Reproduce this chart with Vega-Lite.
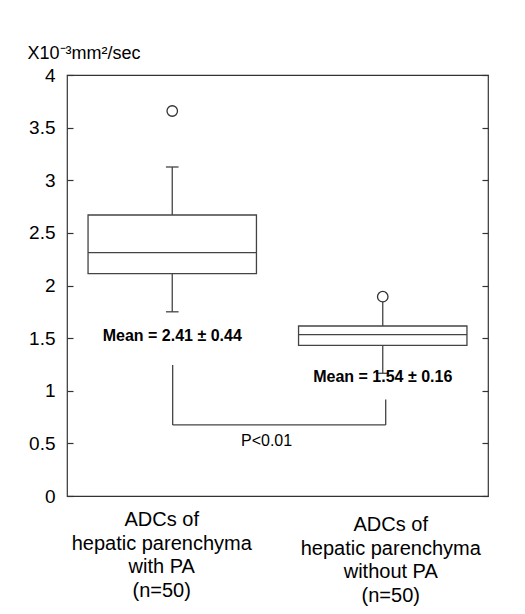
{
  "$schema": "https://vega.github.io/schema/vega-lite/v6.json",
  "width": 421,
  "height": 421,
  "autosize": {"type": "none"},
  "padding": {"left": 67, "top": 75, "right": 37, "bottom": 118},
  "background": "white",
  "config": {
    "view": {"stroke": "#333333", "strokeWidth": 1.2},
    "font": "Liberation Sans",
    "axis": {"grid": false}
  },
  "datasets": {
    "boxes": [
      {"group": "with PA", "x1": 5, "x2": 45, "q1": 2.113, "q3": 2.670},
      {"group": "without PA", "x1": 55, "x2": 95, "q1": 1.432, "q3": 1.615}
    ],
    "segments": [
      {"part": "median1", "x": 5, "x2": 45, "y": 2.312, "y2": 2.312},
      {"part": "median2", "x": 55, "x2": 95, "y": 1.533, "y2": 1.533},
      {"part": "upper whisker1", "x": 25, "x2": 25, "y": 2.670, "y2": 3.126},
      {"part": "lower whisker1", "x": 25, "x2": 25, "y": 2.113, "y2": 1.750},
      {"part": "upper whisker2", "x": 75, "x2": 75, "y": 1.615, "y2": 1.845},
      {"part": "lower whisker2", "x": 75, "x2": 75, "y": 1.432, "y2": 1.166},
      {"part": "cap upper1", "x": 23.5, "x2": 26.5, "y": 3.126, "y2": 3.126},
      {"part": "cap lower1", "x": 23.5, "x2": 26.5, "y": 1.750, "y2": 1.750},
      {"part": "cap lower2", "x": 73.5, "x2": 76.5, "y": 1.166, "y2": 1.166},
      {"part": "bracket left", "x": 25.1, "x2": 25.1, "y": 1.245, "y2": 0.675},
      {"part": "bracket bottom", "x": 25.1, "x2": 75.7, "y": 0.675, "y2": 0.675},
      {"part": "bracket right", "x": 75.7, "x2": 75.7, "y": 0.675, "y2": 0.917}
    ],
    "outliers": [
      {"group": "with PA", "x": 25, "y": 3.658},
      {"group": "without PA", "x": 75, "y": 1.894}
    ],
    "means": [
      {"label": "Mean = 2.41 ± 0.44", "x": 25, "y": 1.52},
      {"label": "Mean = 1.54 ± 0.16", "x": 75, "y": 1.13}
    ],
    "pvalue": [
      {"label": "P<0.01", "x": 47.4, "y": 0.52}
    ],
    "categories": [
      {"label": "ADCs of\nhepatic parenchyma\nwith PA\n(n=50)", "x": 22.5, "y": 0},
      {"label": "ADCs of\nhepatic parenchyma\nwithout PA\n(n=50)", "x": 76.9, "y": -0.048}
    ]
  },
  "resolve": {"axis": {"y": "independent"}},
  "layer": [
    {
      "data": {"name": "boxes"},
      "mark": {"type": "rect", "fill": "white", "stroke": "#444444", "strokeWidth": 1.3},
      "encoding": {
        "x": {"field": "x1", "type": "quantitative", "scale": {"domain": [0, 100]}, "axis": null},
        "x2": {"field": "x2"},
        "y": {
          "field": "q1", "type": "quantitative",
          "scale": {"domain": [0, 4], "nice": false},
          "axis": {
            "orient": "left", "values": [0, 0.5, 1, 1.5, 2, 2.5, 3, 3.5, 4], "format": "~g",
            "domain": false, "offset": -6, "tickSize": 6, "tickColor": "#333333", "tickWidth": 1.2,
            "labelFontSize": 19, "labelColor": "black", "labelPadding": 12,
            "labelFont": "Liberation Sans",
            "title": "X10⁻³mm²/sec", "titleAngle": 0, "titleAlign": "left", "titleBaseline": "alphabetic",
            "titleX": -46, "titleY": -17, "titleFontSize": 18, "titleFontWeight": "normal",
            "titleColor": "black", "titleFont": "Liberation Sans"
          }
        },
        "y2": {"field": "q3"}
      }
    },
    {
      "data": {"name": "segments"},
      "mark": {"type": "rule", "stroke": "#444444", "strokeWidth": 1.3},
      "encoding": {
        "x": {"field": "x", "type": "quantitative", "scale": {"domain": [0, 100]}, "axis": null},
        "x2": {"field": "x2"},
        "y": {
          "field": "y", "type": "quantitative", "scale": {"domain": [0, 4], "nice": false},
          "axis": {
            "orient": "right", "values": [0, 0.5, 1, 1.5, 2, 2.5, 3, 3.5, 4],
            "domain": false, "labels": false, "offset": -6, "tickSize": 6, "tickColor": "#333333",
            "tickWidth": 1.2, "title": null
          }
        },
        "y2": {"field": "y2"}
      }
    },
    {
      "data": {"name": "outliers"},
      "mark": {"type": "point", "shape": "circle", "filled": false, "size": 110, "stroke": "#333333", "strokeWidth": 1.3, "opacity": 1},
      "encoding": {
        "x": {"field": "x", "type": "quantitative", "scale": {"domain": [0, 100]}, "axis": null},
        "y": {"field": "y", "type": "quantitative", "scale": {"domain": [0, 4], "nice": false}, "axis": null}
      }
    },
    {
      "data": {"name": "means"},
      "mark": {"type": "text", "fontSize": 16, "fontWeight": "bold", "font": "Liberation Sans", "color": "black", "baseline": "middle", "align": "center"},
      "encoding": {
        "x": {"field": "x", "type": "quantitative", "scale": {"domain": [0, 100]}, "axis": null},
        "y": {"field": "y", "type": "quantitative", "scale": {"domain": [0, 4], "nice": false}, "axis": null},
        "text": {"field": "label"}
      }
    },
    {
      "data": {"name": "pvalue"},
      "mark": {"type": "text", "fontSize": 16, "font": "Liberation Sans", "color": "black", "baseline": "middle", "align": "center"},
      "encoding": {
        "x": {"field": "x", "type": "quantitative", "scale": {"domain": [0, 100]}, "axis": null},
        "y": {"field": "y", "type": "quantitative", "scale": {"domain": [0, 4], "nice": false}, "axis": null},
        "text": {"field": "label"}
      }
    },
    {
      "data": {"name": "categories"},
      "mark": {"type": "text", "fontSize": 20, "font": "Liberation Sans", "color": "black", "baseline": "top", "align": "center", "lineBreak": "\n", "lineHeight": 23.5, "dy": 14},
      "encoding": {
        "x": {"field": "x", "type": "quantitative", "scale": {"domain": [0, 100]}, "axis": null},
        "y": {"field": "y", "type": "quantitative", "scale": {"domain": [0, 4], "nice": false}, "axis": null},
        "text": {"field": "label"}
      }
    }
  ]
}
